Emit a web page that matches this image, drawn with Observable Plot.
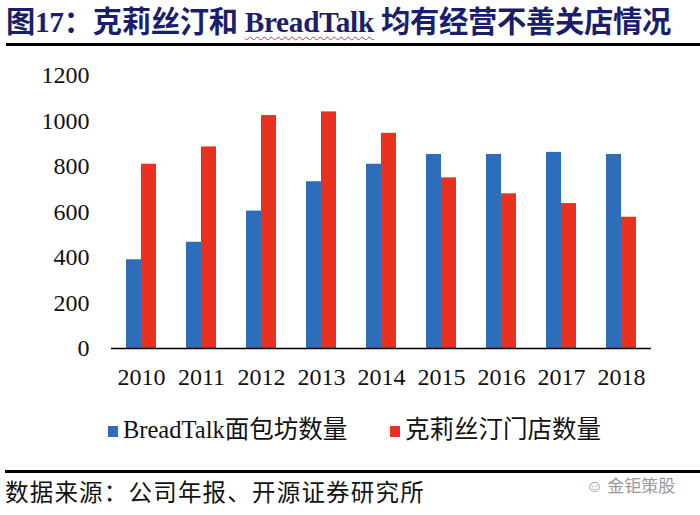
<!DOCTYPE html>
<html>
<head>
<meta charset="utf-8">
<script src="https://cdn.jsdelivr.net/npm/d3@7"></script>
<script src="https://cdn.jsdelivr.net/npm/@observablehq/plot@0.6"></script>
<style>
  html, body { margin: 0; padding: 0; background: #fff; }
  #page { position: relative; width: 700px; height: 515px; overflow: hidden; font-family: "Liberation Serif", "Noto Sans CJK SC", serif; }
  #title { position: absolute; left: 6px; top: 5px; font-size: 29.3px; font-weight: bold; color: #1b1e6c; white-space: nowrap; line-height: 34px; letter-spacing: -0.3px; }
  #title .en { text-decoration: underline wavy #e0322a; text-decoration-thickness: 1px; text-underline-offset: 4px; }
  .rule { position: absolute; left: 6px; right: 0; height: 3px; background: #000; }
  #chart { position: absolute; left: 0; top: 50px; }
  #legend { position: absolute; top: 414px; left: 0; width: 700px; height: 32px; }
  .item { position: absolute; top: 0; font-size: 24.5px; line-height: 32px; color: #111; white-space: nowrap; }
  .sw { display: inline-block; width: 10px; height: 11px; margin-right: 5px; vertical-align: 1px; }
  #caption { position: absolute; left: 5px; top: 478px; font-size: 23.5px; line-height: 30px; color: #111; white-space: nowrap; letter-spacing: 1.2px; }
  #mark { position: absolute; left: 586px; top: 474px; font-size: 17px; line-height: 22px; color: #9a9a9a; font-family: "Noto Sans CJK SC", sans-serif; white-space: nowrap; }
</style>
</head>
<body>
<div id="page">
  <div id="title">图17：克莉丝汀和 <span class="en">BreadTalk</span> 均有经营不善关店情况</div>
  <div class="rule" style="top:43px"></div>
  <div id="chart"></div>
  <div id="legend"></div>
  <div class="rule" style="top:470px; left:5px"></div>
  <div id="caption">数据来源：公司年报、开源证券研究所</div>
  <div id="mark">☺ 金钜策股</div>
</div>
<script>
const years = ["2010", "2011", "2012", "2013", "2014", "2015", "2016", "2017", "2018"];
const breadtalkStores = [390, 467, 604, 733, 810, 853, 853, 862, 853];
const christineStores = [810, 886, 1024, 1040, 946, 750, 680, 637, 577];
const seriesNames = ["BreadTalk面包坊数量", "克莉丝汀门店数量"];
const seriesColors = ["#2e6db9", "#e8311f"];
const yTicks = [0, 200, 400, 600, 800, 1000, 1200];

const rows = [];
years.forEach((y, i) => {
  rows.push({year: y, series: seriesNames[0], value: breadtalkStores[i]});
  rows.push({year: y, series: seriesNames[1], value: christineStores[i]});
});

const chart = Plot.plot({
  width: 700,
  height: 348,
  marginLeft: 108,
  marginRight: 47,
  marginTop: 25,
  marginBottom: 50,
  style: { fontFamily: "Liberation Serif, serif", fontSize: "24px", color: "#111", background: "transparent" },
  fx: { domain: years, padding: 0, axis: "bottom", label: null, tickSize: 0, tickPadding: 19 },
  x: { domain: seriesNames, axis: null, paddingInner: 0, paddingOuter: 0.95 },
  y: { domain: [0, 1200], ticks: yTicks, tickSize: 0, tickPadding: 22, label: null, tickFormat: d => String(d) },
  color: { domain: seriesNames, range: seriesColors },
  marks: [
    Plot.barY(rows, { fx: "year", x: "series", y: "value", fill: "series" }),
    Plot.ruleY([0], { stroke: "#000", strokeWidth: 1.6 })
  ]
});
document.getElementById("chart").appendChild(chart);

const legend = document.getElementById("legend");
const legendX = [108, 390];
seriesNames.forEach((name, i) => {
  const d = document.createElement("div");
  d.className = "item";
  d.style.left = legendX[i] + "px";
  const sw = document.createElement("span");
  sw.className = "sw";
  sw.style.background = seriesColors[i];
  d.appendChild(sw);
  d.appendChild(document.createTextNode(name));
  legend.appendChild(d);
});
</script>
</body>
</html>
